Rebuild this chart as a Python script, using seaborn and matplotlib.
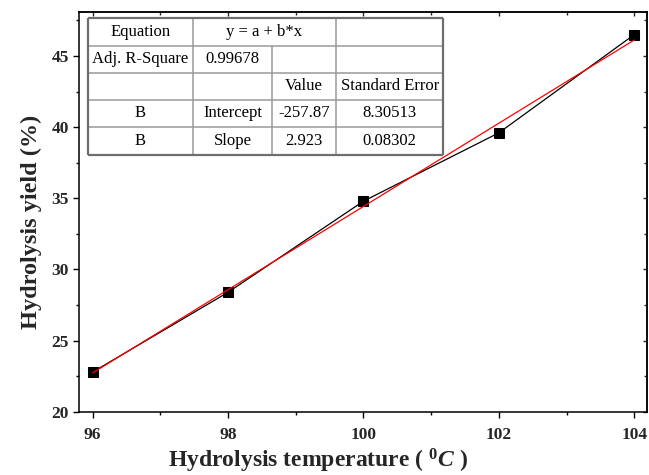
import matplotlib
matplotlib.use("Agg")
import matplotlib.pyplot as plt
import seaborn as sns
import numpy as np
import pandas as pd
from matplotlib.ticker import MultipleLocator

# Hydrolysis yield measured at each temperature
temperature = [96, 98, 100, 102, 104]
hydrolysis_yield = [22.8, 28.4, 34.8, 39.6, 46.5]

# Linear fit results (y = a + b*x)
fit_intercept = -257.87
fit_slope = 2.923
fit_intercept_se = 8.30513
fit_slope_se = 0.08302
adj_r_square = 0.99678

x_ticks = [96, 98, 100, 102, 104]
y_ticks = [20, 25, 30, 35, 40, 45]

sns.set_theme(style="white")
plt.rcParams["font.family"] = ["Liberation Serif", "DejaVu Serif"]
plt.rcParams["mathtext.fontset"] = "custom"
plt.rcParams["mathtext.it"] = "Liberation Serif:italic:bold"
plt.rcParams["mathtext.rm"] = "Liberation Serif:bold"

fig = plt.figure(figsize=(6.49, 4.75), dpi=100)
ax = fig.add_axes([0.121, 0.133, 0.876, 0.842])

df = pd.DataFrame({"T": temperature, "Y": hydrolysis_yield})
sns.lineplot(data=df, x="T", y="Y", ax=ax, color="black", linewidth=0.9,
             marker="s", markersize=6.5, markeredgecolor="black",
             markerfacecolor="black")

fit_x = np.array([temperature[0], temperature[-1]], dtype=float)
fit_df = pd.DataFrame({"T": fit_x, "Y": fit_intercept + fit_slope * fit_x})
sns.lineplot(data=fit_df, x="T", y="Y", ax=ax, color="red", linewidth=0.9)

ax.set_xlim(95.79, 104.19)
ax.set_ylim(20, 48.1)
ax.set_xticks(x_ticks)
ax.set_yticks(y_ticks)
ax.xaxis.set_minor_locator(MultipleLocator(1))
ax.yaxis.set_minor_locator(MultipleLocator(2.5))

for s in ax.spines.values():
    s.set_color("black")
    s.set_linewidth(1.1)

ax.tick_params(axis="both", which="major", direction="out", length=4,
               width=1.0, color="black", labelsize=12.5,
               bottom=True, left=True)
ax.tick_params(axis="x", which="major", pad=7)
ax.tick_params(axis="y", which="major", pad=3)
ax.tick_params(axis="both", which="minor", direction="out", length=2.5,
               width=1.0, color="black", bottom=True, left=True)
for lbl in ax.get_xticklabels() + ax.get_yticklabels():
    lbl.set_fontweight("bold")

# Mirrored inward ticks on the top and right spines
axt = ax.secondary_xaxis("top")
axt.set_xticks(x_ticks)
axt.xaxis.set_minor_locator(MultipleLocator(1))
axt.tick_params(which="major", direction="in", length=3, width=1.0, labeltop=False)
axt.tick_params(which="minor", direction="in", length=2, width=1.0)
axr = ax.secondary_yaxis("right")
axr.set_yticks(y_ticks)
axr.yaxis.set_minor_locator(MultipleLocator(2.5))
axr.tick_params(which="major", direction="in", length=3, width=1.0, labelright=False)
axr.tick_params(which="minor", direction="in", length=2, width=1.0)

ax.set_xlabel(r"Hydrolysis temperature ( $\mathit{^{0}C}$ )", fontsize=17,
              fontweight="bold")
ax.xaxis.set_label_coords(0.421, -0.088)
ax.set_ylabel("Hydrolysis yield (%)", fontsize=17.5, fontweight="bold")
ax.yaxis.set_label_coords(-0.064, 0.475)

# Fit summary table drawn in axes fraction coordinates
cols = [0.0167, 0.2009, 0.3404, 0.4529, 0.6416]
rows = [0.984, 0.915, 0.847, 0.780, 0.712, 0.6425]
inner = "#9a9a9a"
outer = "#6e6e6e"
tr = ax.transAxes

def hline(y, x0, x1, c=inner, lw=1.1):
    ax.plot([x0, x1], [y, y], transform=tr, color=c, lw=lw, clip_on=False,
            solid_capstyle="butt", zorder=5)

def vline(x, y0, y1, c=inner, lw=1.1):
    ax.plot([x, x], [y0, y1], transform=tr, color=c, lw=lw, clip_on=False,
            solid_capstyle="butt", zorder=5)

ax.add_patch(plt.Rectangle((cols[0], rows[-1]), cols[-1] - cols[0],
                           rows[0] - rows[-1], transform=tr, facecolor="white",
                           edgecolor="none", zorder=4))
for y in rows[1:-1]:
    hline(y, cols[0], cols[-1])
vline(cols[1], rows[-1], rows[0])
vline(cols[2], rows[-1], rows[1])
vline(cols[3], rows[-1], rows[0])
hline(rows[0], cols[0], cols[-1], outer, 1.6)
hline(rows[-1], cols[0], cols[-1], outer, 1.6)
vline(cols[0], rows[-1], rows[0], outer, 1.6)
vline(cols[-1], rows[-1], rows[0], outer, 1.6)

cells = [
    ["Equation", "y = a + b*x", None, ""],
    ["Adj. R-Square", f"{adj_r_square:.5f}", "", ""],
    ["", "", "Value", "Standard Error"],
    ["B", "Intercept", f"{fit_intercept:.2f}", f"{fit_intercept_se:.5f}"],
    ["B", "Slope", f"{fit_slope:.3f}", f"{fit_slope_se:.5f}"],
]
for r, row in enumerate(cells):
    yc = (rows[r] + rows[r + 1]) / 2
    for c, txt in enumerate(row):
        if txt is None or txt == "":
            continue
        if r == 0 and c == 1:
            xc = (cols[1] + cols[3]) / 2
        else:
            xc = (cols[c] + cols[c + 1]) / 2
        ax.text(xc, yc, txt, transform=tr, ha="center", va="center",
                fontsize=12, color="black", zorder=6)

fig.savefig("out.png", dpi=100)
